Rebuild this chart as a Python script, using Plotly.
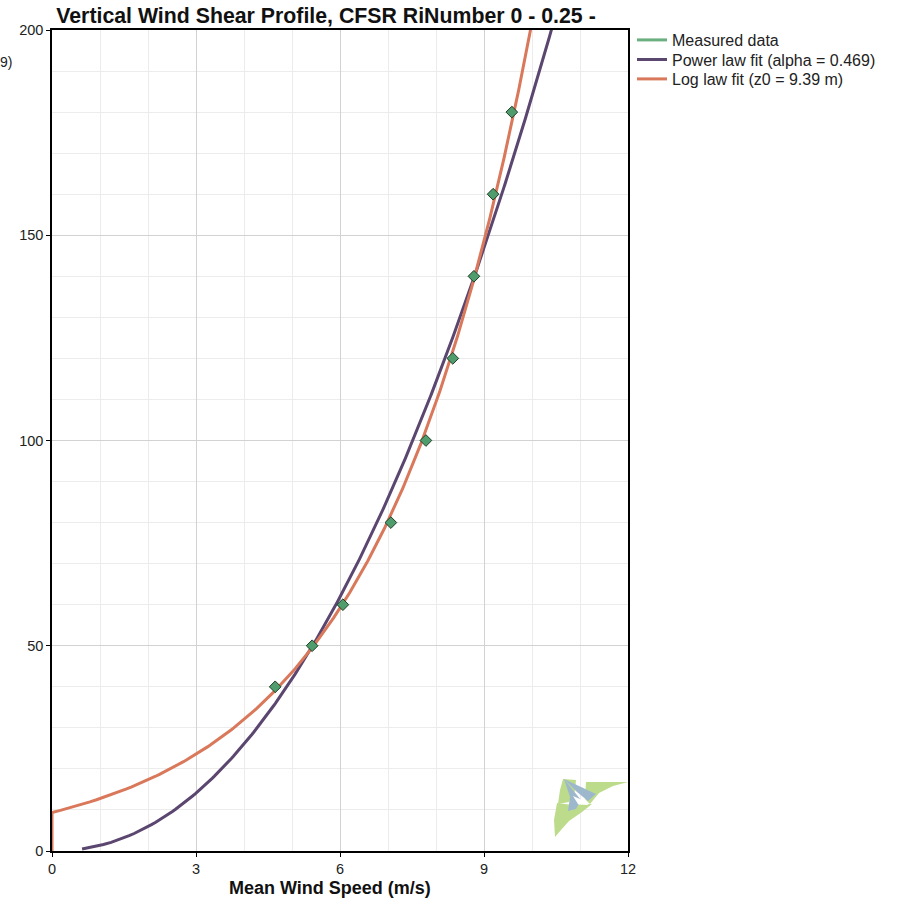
import numpy as np
import plotly.graph_objects as go

# Measured profile: mean wind speed (m/s) at each measurement height (m)
heights = [40, 50, 60, 80, 100, 120, 140, 160, 180]
speeds = [4.65, 5.42, 6.06, 7.06, 7.79, 8.35, 8.79, 9.19, 9.58]

# Fit parameters quoted in the legend
alpha = 0.469
z0 = 9.39

x_ticks = [0, 3, 6, 9, 12]
y_ticks = [0, 50, 100, 150, 200]

W, H = 902, 900
L, R, T, B = 52, 274, 30, 49
PW, PH = W - L - R, H - T - B

h_arr = np.array(heights, dtype=float)
v_arr = np.array(speeds, dtype=float)

# Least-squares scale factors for the two fixed-shape laws
p = h_arr ** alpha
a_pow = float((v_arr * p).sum() / (p * p).sum())
q = np.log(h_arr / z0)
a_log = float((v_arr * q).sum() / (q * q).sum())

h_pow = np.linspace(0.5, 215, 400)
v_pow = a_pow * h_pow ** alpha

h_log = np.concatenate([[0.0], np.linspace(z0, 215, 400)])
v_log = np.concatenate([[0.0], a_log * np.log(h_log[1:] / z0)])

green = "#4f9c6c"
purple = "#5b4670"
orange = "#d9785a"
FONT = "Liberation Sans, Arial"


def px(x, y):
    return (x - L) / PW, 1 - (y - T) / PH


fig = go.Figure()
fig.add_trace(go.Scatter(x=[None], y=[None], mode="lines", name="Measured data",
                         legend="legend", line=dict(color="#6aaf7f", width=3)))
fig.add_trace(go.Scatter(x=v_pow, y=h_pow, mode="lines", legend="legend2",
                         name=f"Power law fit (alpha = {alpha})",
                         line=dict(color=purple, width=3)))
fig.add_trace(go.Scatter(x=v_log, y=h_log, mode="lines", legend="legend3",
                         name=f"Log law fit (z0 = {z0} m)",
                         line=dict(color=orange, width=3)))
fig.add_trace(go.Scatter(x=speeds, y=heights, mode="markers", showlegend=False,
                         marker=dict(symbol="diamond", size=9, color=green,
                                     line=dict(color="#1e3d28", width=1))))


def poly(points, color):
    pts = [px(x, y) for x, y in points]
    d = "M " + " L ".join(f"{a:.5f},{b:.5f}" for a, b in pts) + " Z"
    fig.add_shape(type="path", path=d, xref="paper", yref="paper",
                  fillcolor=color, line=dict(width=0), layer="above")


# Small kite-shaped logo in the lower right corner
LG, LB = "#bcdc8c", "#9db8cc"
poly([(586, 782), (628, 782), (613, 786), (599, 793), (590, 804), (585, 799)], LG)
poly([(563, 779), (576, 780), (575, 791), (569, 802), (558, 804), (560, 790)], LG)
poly([(557, 803), (573, 805), (592, 804), (582, 812), (569, 821), (561, 830),
      (555, 837), (554, 820)], LG)
poly([(564, 779), (596, 794), (588, 801), (577, 792)], LB)
poly([(564, 779), (581, 800), (576, 809), (568, 811), (570, 797)], LB)
poly([(573, 796), (587, 802), (588, 805), (578, 804)], "#ffffff")

axis_common = dict(showline=True, linecolor="black", linewidth=1.5, mirror=True,
                   ticks="outside", ticklen=4, tickcolor="black",
                   tickfont=dict(family=FONT, size=14.5, color="#222"),
                   zeroline=False, showgrid=True, gridcolor="#d2d2d2", gridwidth=1)

fig.update_xaxes(range=[0, 12], tickvals=x_ticks, **axis_common,
                 minor=dict(dtick=1, showgrid=True, gridcolor="#ececec", ticks=""))
fig.update_yaxes(range=[0, 200], tickvals=y_ticks, **axis_common,
                 minor=dict(dtick=10, showgrid=True, gridcolor="#ececec", ticks=""))

# x-axis title
fig.add_annotation(text="<b>Mean Wind Speed (m/s)</b>", xref="paper", yref="paper",
                   x=px(330, 888)[0], y=px(330, 888)[1], xanchor="center", yanchor="middle",
                   showarrow=False, font=dict(family=FONT, size=18, color="#111"))

fig.add_annotation(text="9)", xref="paper", yref="paper", x=px(14, 62)[0], y=px(14, 62)[1],
                   xanchor="right", yanchor="middle", showarrow=False,
                   font=dict(family=FONT, size=14, color="#222"))

leg_common = dict(xanchor="left", yanchor="middle", bgcolor="rgba(0,0,0,0)",
                  font=dict(family=FONT, size=16, color="#222"), itemwidth=30)
leg_x = (632 - L) / PW

fig.update_layout(
    width=W, height=H,
    margin=dict(l=L, r=R, t=T, b=B),
    paper_bgcolor="white", plot_bgcolor="white",
    title=dict(text="<b>Vertical Wind Shear Profile, CFSR RiNumber 0 - 0.25 -</b>",
               x=326 / W, xanchor="center", xref="container",
               y=1 - 16 / H, yanchor="middle", yref="container",
               font=dict(family=FONT, size=21.3, color="#111")),
    legend=dict(x=leg_x, y=px(0, 40)[1], **leg_common),
    legend2=dict(x=leg_x, y=px(0, 59.5)[1], **leg_common),
    legend3=dict(x=leg_x, y=px(0, 79)[1], **leg_common),
    showlegend=True,
)

fig.write_html("out.html")
